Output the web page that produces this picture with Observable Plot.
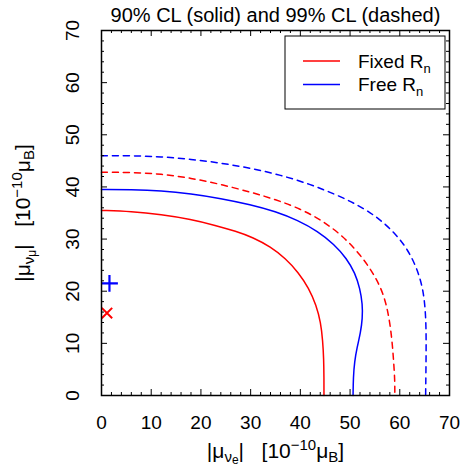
<!DOCTYPE html>
<html>
<head>
<meta charset="utf-8">
<script src="https://cdn.jsdelivr.net/npm/d3@7"></script>
<script src="https://cdn.jsdelivr.net/npm/@observablehq/plot@0.6"></script>
<style>
  html, body { margin: 0; padding: 0; background: white; }
</style>
</head>
<body>
<div id="chart"></div>
<script>
// ---- data ----
const fixed90 = [[0,35.5],[6,35.3],[12,34.7],[18,33.8],[23,32.6],[27,31.5],[30.5,30.3],[34,28.5],[37,26.3],[39.6,23.6],[41.7,20.6],[43.2,17.3],[44.1,14.0],[44.5,10.5],[44.7,7],[44.75,3.5],[44.75,0]];
const free90  = [[0,39.5],[6,39.5],[12,39.3],[18,38.7],[24,37.8],[30,36.6],[35,35.3],[39.5,33.6],[43.5,31.5],[46.8,29.0],[49.3,26.3],[51,23.5],[52,20.5],[52.5,17.5],[52.5,14.8],[52.1,12],[51.4,9.2],[50.9,6.5],[50.65,3.5],[50.6,0]];
const fixed99 = [[0,42.8],[6,42.8],[12,42.5],[18,41.7],[24,40.5],[30,39.0],[35,37.6],[40,35.8],[44.5,33.5],[48.5,30.6],[51.8,27.3],[54.3,24.0],[56.2,20.7],[57.3,17.5],[58.0,14],[58.5,10],[58.8,6],[59.0,3],[59.0,0]];
const free99  = [[0,46.0],[6,46.0],[12,45.8],[18,45.3],[24,44.6],[30,43.6],[36,42.3],[42,40.5],[47,38.6],[51.5,36.6],[55.5,34.2],[59,31.2],[61.6,28.0],[63.4,24.5],[64.6,20.8],[65.1,17],[65.3,13],[65.3,8],[65.25,4],[65.2,0]];
const fixedBest = [[1.1, 15.8]];
const freeBest  = [[1.6, 21.5]];
const xTicks = [0,10,20,30,40,50,60,70];
const yTicks = [0,10,20,30,40,50,60,70];
const minorTicks = [2,4,6,8,12,14,16,18,22,24,26,28,32,34,36,38,42,44,46,48,52,54,56,58,62,64,66,68];
const titleText = "90% CL (solid) and 99% CL (dashed)";
const seriesNames = ["Fixed R", "Free R"];
const seriesColors = ["#ff0000", "#0000ff"];

// ---- layout ----
const W = 461, H = 466;
const mL = 101, mR = 12, mT = 30, mB = 71;
const innerW = W - mL - mR, innerH = H - mT - mB;
const FONT = "Liberation Sans, Arial, Helvetica, sans-serif";

const lineOpts = (color, dashed) => ({
  x: d => d[0], y: d => d[1], stroke: color, strokeWidth: 1.5,
  curve: "basis", strokeDasharray: dashed ? "6,5" : null
});

const plot = Plot.plot({
  width: W, height: H,
  marginLeft: mL, marginRight: mR, marginTop: mT, marginBottom: mB,
  x: {domain: [0, 70], axis: null},
  y: {domain: [0, 70], axis: null},
  style: {fontFamily: FONT, fontSize: "19px", background: "white", overflow: "visible", color: "black"},
  marks: [
    Plot.line(fixed90, lineOpts(seriesColors[0], false)),
    Plot.line(free90, lineOpts(seriesColors[1], false)),
    Plot.line(fixed99, lineOpts(seriesColors[0], true)),
    Plot.line(free99, lineOpts(seriesColors[1], true)),
    Plot.dot(fixedBest, {x: d => d[0], y: d => d[1], symbol: "times", r: 4.8, stroke: seriesColors[0], strokeWidth: 2}),
    Plot.dot(freeBest, {x: d => d[0], y: d => d[1], symbol: "plus", r: 5.5, stroke: seriesColors[1], strokeWidth: 2.2}),
    Plot.tickX(xTicks, {x: d => d, insetTop: innerH - 6, stroke: "black", strokeWidth: 1}),
    Plot.tickX(xTicks, {x: d => d, insetBottom: innerH - 6, stroke: "black", strokeWidth: 1}),
    Plot.tickX(minorTicks, {x: d => d, insetTop: innerH - 3, stroke: "black", strokeWidth: 1}),
    Plot.tickX(minorTicks, {x: d => d, insetBottom: innerH - 3, stroke: "black", strokeWidth: 1}),
    Plot.tickY(yTicks, {y: d => d, insetRight: innerW - 6, stroke: "black", strokeWidth: 1}),
    Plot.tickY(yTicks, {y: d => d, insetLeft: innerW - 6, stroke: "black", strokeWidth: 1}),
    Plot.tickY(minorTicks, {y: d => d, insetRight: innerW - 3, stroke: "black", strokeWidth: 1}),
    Plot.tickY(minorTicks, {y: d => d, insetLeft: innerW - 3, stroke: "black", strokeWidth: 1}),
    Plot.frame({stroke: "black", strokeWidth: 1.5}),
    Plot.text(xTicks, {x: d => d, text: d => String(d), frameAnchor: "bottom", dy: 27, lineAnchor: "middle", fontSize: 19, fill: "black"}),
    Plot.text(yTicks, {y: d => d, text: d => String(d), frameAnchor: "left", dx: -29, rotate: -90, textAnchor: "middle", lineAnchor: "middle", fontSize: 19, fill: "black"}),
    Plot.text([titleText], {text: d => d, frameAnchor: "top", dy: -15, lineAnchor: "middle", fontSize: 20, fill: "black"}),
    Plot.text(["XLABEL"], {text: d => d, frameAnchor: "bottom", dy: 56, lineAnchor: "middle", fontSize: 21, fill: "black"}),
    Plot.text(["YLABEL"], {text: d => d, frameAnchor: "left", dx: -78, rotate: -90, textAnchor: "middle", lineAnchor: "middle", fontSize: 21, fill: "black"})
  ]
});

document.getElementById("chart").appendChild(plot);
const svg = d3.select(plot);

function richText(textNode, parts, base) {
  if (!textNode) return;
  const t = d3.select(textNode);
  t.text("");
  let prev = 0;
  parts.forEach(p => {
    const shift = p.shift || 0;
    t.append("tspan")
      .attr("dy", shift - prev)
      .attr("font-size", p.size || base)
      .text(p.t);
    prev = shift;
  });
}
function findText(content) {
  return svg.selectAll("text").filter(function() { return this.textContent === content; }).node();
}

const xParts = [
  {t: "|μ"}, {t: "ν", size: 15, shift: 4}, {t: "e", size: 12, shift: 6},
  {t: "|\u00a0\u00a0\u00a0[10"}, {t: "−10", size: 15, shift: -8},
  {t: "μ"}, {t: "B", size: 15, shift: 4}, {t: "]"}
];
const yParts = [
  {t: "|μ"}, {t: "ν", size: 15, shift: 4}, {t: "μ", size: 12, shift: 6},
  {t: "|\u00a0\u00a0\u00a0[10"}, {t: "−10", size: 15, shift: -8},
  {t: "μ"}, {t: "B", size: 15, shift: 4}, {t: "]"}
];
richText(findText("XLABEL"), xParts, 21);
richText(findText("YLABEL"), yParts, 21);

// legend box inside the frame (top right)
const lg = svg.append("g").attr("font-family", FONT).attr("text-anchor", "start");
const bx0 = 285, by0 = 36, bw = 160, bh = 73;
lg.append("rect").attr("x", bx0).attr("y", by0).attr("width", bw).attr("height", bh)
  .attr("fill", "white").attr("stroke", "black").attr("stroke-width", 1);
seriesNames.forEach((name, i) => {
  const yy = 61 + i * 23.5;
  lg.append("line").attr("x1", 303).attr("x2", 340).attr("y1", yy).attr("y2", yy)
    .attr("stroke", seriesColors[i]).attr("stroke-width", 1.5);
  const tx = lg.append("text").attr("x", 358).attr("y", yy + 6.5).attr("font-size", 19).attr("fill", "black");
  tx.append("tspan").text(name);
  tx.append("tspan").attr("font-size", 13).attr("dy", 5).text("n");
});
</script>
</body>
</html>
